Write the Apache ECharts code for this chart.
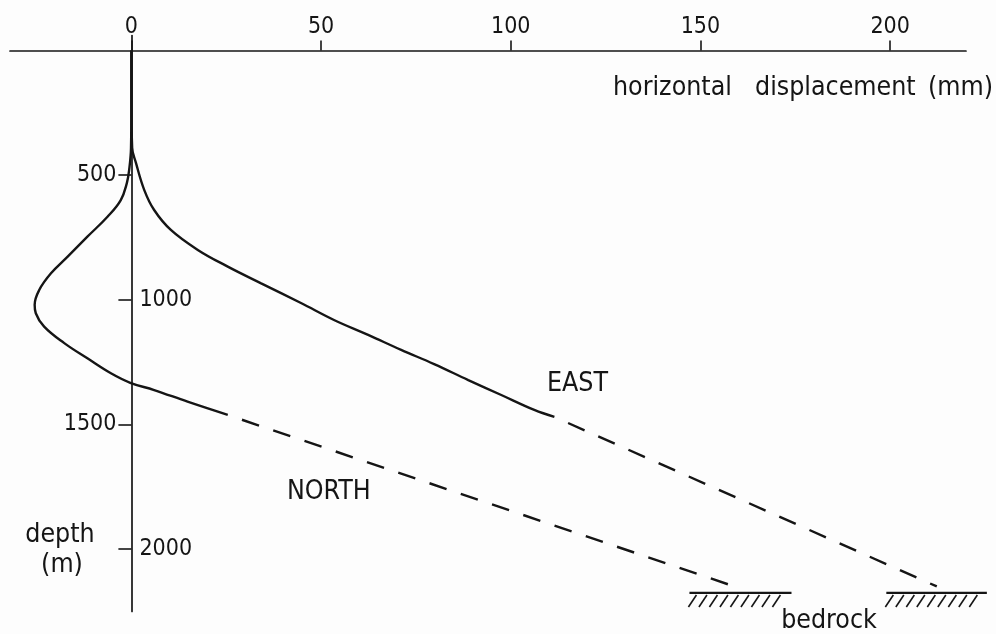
<!DOCTYPE html>
<html>
<head>
<meta charset="utf-8">
<script src="https://cdn.jsdelivr.net/npm/echarts@6/dist/echarts.min.js"></script>
<style>
html,body{margin:0;padding:0;background:#fdfdfd;}
#c{width:996px;height:634px;}
</style>
</head>
<body>
<div id="c"></div>
<script>
// ---- data (displacement in mm, depth in m) ----
const xTickValues = [0, 50, 100, 150, 200];
const depthTicks = [500, 1000, 1500, 2000];
const depthLabelsLeft = [500, 1500];
const depthLabelsRight = [1000, 2000];

const eastDisp  = [0, 0, 0.2, 1.2, 3.4, 6.0, 10.4, 17.5, 25.4, 34.2, 44.7, 53.4, 62.4, 71.1, 79.8, 88.8, 97.5, 106.2, 111.5];
const eastDepth = [0, 200, 390, 451, 560, 640, 720, 800, 867, 934, 1013, 1081, 1141, 1201, 1258, 1322, 1382, 1442, 1470];
const eastDashDisp  = [111.5, 212.3];
const eastDashDepth = [1470, 2150];

const northDisp  = [0, 0, -0.1, -0.6, -1.2, -2.8, -6.3, -11.6, -16.8, -21.2, -24.3, -25.5, -25.2, -23.0, -17.7, -11.6, -5.4, -0.3, 6.0, 14.8, 25.4];
const northDepth = [0, 200, 390, 480, 532, 600, 667, 747, 827, 894, 961, 1020, 1054, 1108, 1174, 1235, 1295, 1333, 1362, 1409, 1462];
const northDashDisp  = [25.4, 157.4];
const northDashDepth = [1462, 2142];

const bedrockFrom  = [147.1, 199.0];
const bedrockTo    = [174.0, 225.5];
const bedrockDepth = [2176, 2176];

// ---- build ----
const zip = (a, b) => a.map((v, i) => [v, b[i]]);
const INK = '#151515';
const FONT = '"DejaVu Sans Condensed", "DejaVu Sans", sans-serif';
const FS = 23;     // numbers
const FT = 26.5;   // words
const LW = 2.4;

function labelSeries(name, data, position, distance, valueIndex) {
  return {
    type: 'scatter', name: name, symbolSize: 0, silent: true, z: 5,
    itemStyle: { opacity: 1 },
    data: data,
    label: { show: true, position: position, distance: distance, color: INK, opacity: 1,
      fontFamily: FONT, fontSize: FS, formatter: p => String(p.value[valueIndex]) }
  };
}

const chart = echarts.init(document.getElementById('c'));
chart.setOption({
  backgroundColor: '#fdfdfd',
  animation: false,
  grid: { left: 10, right: 30, top: 35.5, bottom: 22.6, containLabel: false, outerBoundsMode: 'none' },
  xAxis: {
    type: 'value', position: 'top', min: -32, max: 220,
    axisLine: { show: true, onZero: true, lineStyle: { color: INK, width: 1.7 } },
    axisTick: { show: true, length: 10, customValues: xTickValues, lineStyle: { color: INK, width: 1.6 } },
    axisLabel: { show: false },
    splitLine: { show: false }
  },
  yAxis: {
    type: 'value', inverse: true, position: 'left', min: -60, max: 2250,
    axisLine: { show: true, onZero: true, lineStyle: { color: INK, width: 1.7 } },
    axisTick: { show: true, length: 13, customValues: depthTicks, lineStyle: { color: INK, width: 1.6 } },
    axisLabel: { show: false },
    splitLine: { show: false }
  },
  series: [
    { type: 'line', name: 'EAST', data: zip(eastDisp, eastDepth), smooth: 0.4, symbol: 'none',
      lineStyle: { color: INK, width: LW } },
    { type: 'line', name: 'EAST ext', data: zip(eastDashDisp, eastDashDepth), symbol: 'none',
      lineStyle: { color: INK, width: LW, type: [18, 15], dashOffset: 18 } },
    { type: 'line', name: 'NORTH', data: zip(northDisp, northDepth), smooth: 0.4, symbol: 'none',
      lineStyle: { color: INK, width: LW } },
    { type: 'line', name: 'NORTH ext', data: zip(northDashDisp, northDashDepth), symbol: 'none',
      lineStyle: { color: INK, width: LW, type: [18, 15], dashOffset: 18 } },
    labelSeries('x tick labels', xTickValues.map(v => [v, 0]), 'top', 12, 0),
    labelSeries('depth labels left', depthLabelsLeft.map(d => [0, d]), 'left', 15, 1),
    labelSeries('depth labels right', depthLabelsRight.map(d => [0, d]), 'right', 8, 1),
    { type: 'custom', name: 'bedrock',
      data: bedrockFrom.map((v, i) => [v, bedrockTo[i], bedrockDepth[i]]),
      encode: { x: [0, 1], y: 2 },
      renderItem: function (params, api) {
        const p0 = api.coord([api.value(0), api.value(2)]);
        const p1 = api.coord([api.value(1), api.value(2)]);
        const children = [{ type: 'line', shape: { x1: p0[0], y1: p0[1], x2: p1[0], y2: p1[1] },
          style: { stroke: INK, lineWidth: 2.2 } }];
        for (let x = p0[0] + 7; x <= p1[0] - 7; x += 10.5) {
          children.push({ type: 'line', shape: { x1: x, y1: p0[1] + 2, x2: x - 8, y2: p0[1] + 14 },
            style: { stroke: INK, lineWidth: 1.6 } });
        }
        return { type: 'group', children: children };
      }
    }
  ],
  graphic: [
    { type: 'text', x: 613, y: 88, style: { text: 'horizontal', fill: INK, fontFamily: FONT, fontSize: FT, verticalAlign: 'middle' } },
    { type: 'text', x: 755, y: 88, style: { text: 'displacement', fill: INK, fontFamily: FONT, fontSize: FT, verticalAlign: 'middle' } },
    { type: 'text', x: 993, y: 88, style: { text: '(mm)', fill: INK, fontFamily: FONT, fontSize: FT, align: 'right', verticalAlign: 'middle' } },
    { type: 'text', x: 547, y: 384, style: { text: 'EAST', fill: INK, fontFamily: FONT, fontSize: FT, verticalAlign: 'middle' } },
    { type: 'text', x: 287, y: 492, style: { text: 'NORTH', fill: INK, fontFamily: FONT, fontSize: FT, verticalAlign: 'middle' } },
    { type: 'text', x: 829, y: 621, style: { text: 'bedrock', fill: INK, fontFamily: FONT, fontSize: FT, align: 'center', verticalAlign: 'middle' } },
    { type: 'text', x: 60, y: 535, style: { text: 'depth', fill: INK, fontFamily: FONT, fontSize: FT, align: 'center', verticalAlign: 'middle' } },
    { type: 'text', x: 62, y: 565, style: { text: '(m)', fill: INK, fontFamily: FONT, fontSize: FT, align: 'center', verticalAlign: 'middle' } }
  ]
});
</script>
</body>
</html>
